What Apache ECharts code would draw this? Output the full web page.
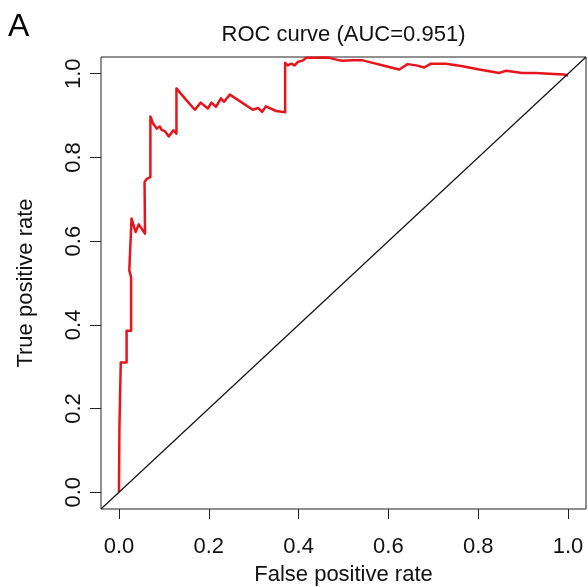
<!DOCTYPE html>
<html>
<head>
<meta charset="utf-8">
<script src="https://cdn.jsdelivr.net/npm/echarts@6/dist/echarts.min.js"></script>
<style>
html,body{margin:0;padding:0;background:#fff;}
#chart{width:588px;height:587px;}
</style>
</head>
<body>
<div id="chart"></div>
<script>
// ---- data ----
const fpr = [0, 0.001, 0.004, 0.004, 0.017, 0.017, 0.027, 0.027, 0.023, 0.028,
  0.037, 0.044, 0.058, 0.057, 0.062, 0.065, 0.070, 0.070, 0.076, 0.084,
  0.091, 0.095, 0.102, 0.111, 0.121, 0.128, 0.128, 0.150, 0.169, 0.182,
  0.198, 0.206, 0.216, 0.227, 0.234, 0.247, 0.298, 0.310, 0.319, 0.327,
  0.350, 0.370, 0.370, 0.376, 0.384, 0.391, 0.398, 0.410, 0.417, 0.439,
  0.454, 0.469, 0.491, 0.498, 0.521, 0.543, 0.565, 0.595, 0.624, 0.643,
  0.662, 0.680, 0.695, 0.728, 0.765, 0.802, 0.847, 0.862, 0.898, 0.928,
  0.958, 0.991, 1.0];
const tpr = [0, 0.153, 0.153, 0.310, 0.310, 0.386, 0.386, 0.514, 0.530, 0.654,
  0.622, 0.640, 0.618, 0.741, 0.749, 0.745, 0.753, 0.898, 0.881, 0.869,
  0.874, 0.866, 0.863, 0.850, 0.865, 0.857, 0.965, 0.937, 0.914, 0.931,
  0.917, 0.931, 0.921, 0.941, 0.933, 0.950, 0.914, 0.918, 0.909, 0.922,
  0.911, 0.908, 1.026, 1.020, 1.024, 1.020, 1.028, 1.032, 1.038, 1.038,
  1.039, 1.038, 1.032, 1.031, 1.032, 1.032, 1.026, 1.018, 1.010, 1.023,
  1.020, 1.015, 1.024, 1.024, 1.018, 1.010, 1.002, 1.007, 1.002, 1.002,
  1.000, 0.998, 0.996];
const tickValues = [0, 0.2, 0.4, 0.6, 0.8, 1.0];
const axisRange = [-0.04, 1.04];
const titleText = 'ROC curve (AUC=0.951)';
const panelLabel = 'A';
const xName = 'False positive rate';
const yName = 'True positive rate';

// ---- chart ----
const FONT = '"Liberation Sans", Arial, Helvetica, sans-serif';
const rocData = fpr.map((x, i) => [x, tpr[i]]);
const diagData = [[axisRange[0], axisRange[0]], [axisRange[1], axisRange[1]]];

const chart = echarts.init(document.getElementById('chart'), null, {renderer: 'canvas'});
const gridLeft = 101, gridRight = 2, gridTop = 57, gridBottom = 78;
chart.setOption({
  animation: false,
  backgroundColor: '#fff',
  grid: {left: gridLeft, right: gridRight, top: gridTop, bottom: gridBottom,
         containLabel: false, outerBoundsMode: 'none',
         show: true, borderColor: '#222', borderWidth: 1, backgroundColor: 'transparent'},
  xAxis: {
    type: 'value', min: axisRange[0], max: axisRange[1],
    axisLine: {show: false, onZero: false},
    splitLine: {show: false},
    axisTick: {show: true, customValues: tickValues, length: 10, lineStyle: {color: '#222', width: 1}},
    axisLabel: {customValues: tickValues, formatter: v => v.toFixed(1), fontSize: 22,
                lineHeight: 22, color: '#111', fontFamily: FONT, margin: 27},
    name: xName, nameLocation: 'middle', nameGap: 55,
    nameTextStyle: {fontSize: 22, lineHeight: 22, color: '#111', fontFamily: FONT}
  },
  yAxis: {
    type: 'value', min: axisRange[0], max: axisRange[1],
    axisLine: {show: false, onZero: false},
    splitLine: {show: false},
    axisTick: {show: true, customValues: tickValues, length: 11, lineStyle: {color: '#222', width: 1}},
    axisLabel: {customValues: tickValues, formatter: v => v.toFixed(1), fontSize: 22,
                lineHeight: 22, color: '#111', fontFamily: FONT, margin: 16, rotate: 90},
    name: yName, nameLocation: 'middle', nameGap: 64, nameRotate: 90,
    nameTextStyle: {fontSize: 22, lineHeight: 22, color: '#111', fontFamily: FONT}
  },
  series: [
    {type: 'line', data: rocData, showSymbol: false, symbol: 'none',
     lineStyle: {color: '#e8141c', width: 2.5, join: 'round'}, z: 2, clip: true},
    {type: 'line', data: diagData, showSymbol: false, symbol: 'none',
     lineStyle: {color: '#111', width: 1.2}, z: 3, clip: true}
  ],
  graphic: [
    {type: 'text', left: 8, top: 11,
     style: {text: panelLabel, fontSize: 32, fontFamily: FONT, fill: '#000'}},
    {type: 'text', x: gridLeft + (588 - gridLeft - gridRight) / 2, y: 35,
     style: {text: titleText, fontSize: 22, fontFamily: FONT, fill: '#111',
             align: 'center', verticalAlign: 'middle'}}
  ]
});
</script>
</body>
</html>
